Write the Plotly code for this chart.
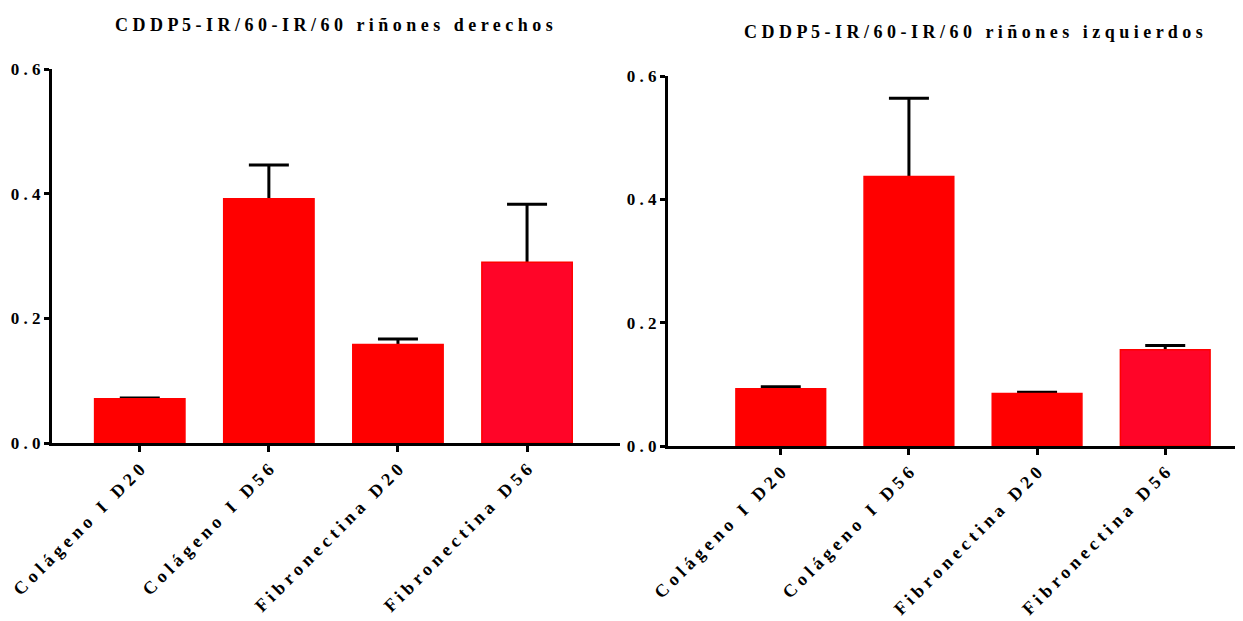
import plotly.graph_objects as go

categories = ["Colágeno I D20", "Colágeno I D56", "Fibronectina D20", "Fibronectina D56"]
right_values = [0.071, 0.392, 0.158, 0.290]
right_errors = [0.001, 0.054, 0.009, 0.093]
left_values = [0.093, 0.437, 0.085, 0.156]
left_errors = [0.003, 0.127, 0.002, 0.007]
bar_colors = ["#FF0000", "#FF0000", "#FF0000", "#FF0528"]
line_colors = ["#FF0000", "#FF0000", "#FF0000", "#FF0000"]
y_ticks = [0.0, 0.2, 0.4, 0.6]
y_tick_labels = ["0.0", "0.2", "0.4", "0.6"]
title_left = "CDDP5-IR/60-IR/60 riñones derechos"
title_right = "CDDP5-IR/60-IR/60 riñones izquierdos"

W, H = 1243, 621
OFF = 8  # page body margin


def px(x):
    return (x - OFF) / W


def py(y):
    return (H - (y - OFF)) / H


def spaced(s, sep=" "):
    return sep.join(list(s))


FONT = "Liberation Serif"

fig = go.Figure()
for vals, errs, xa, ya in [(right_values, right_errors, "x", "y"), (left_values, left_errors, "x2", "y2")]:
    # carrier of the error bars (drawn underneath the visible bars)
    fig.add_trace(go.Bar(
        x=categories, y=vals, xaxis=xa, yaxis=ya, width=0.7,
        marker=dict(color="rgba(0,0,0,0)", line=dict(width=0)),
        error_y=dict(type="data", array=errs, arrayminus=vals, symmetric=False,
                     color="black", thickness=3, width=20),
        showlegend=False, hoverinfo="skip",
    ))
    fig.add_trace(go.Bar(
        x=categories, y=vals, xaxis=xa, yaxis=ya, width=0.7,
        marker=dict(color=bar_colors, line=dict(color=line_colors, width=1.5)),
        showlegend=False,
    ))

tick_text = [spaced(c) for c in categories]
axis_common = dict(showline=True, linewidth=3, linecolor="black", showgrid=False, zeroline=False,
                   ticks="outside", tickwidth=3, tickcolor="black", automargin=False)
xfont = dict(family=FONT, size=18, color="black", weight="bold")
yfont = dict(family=FONT, size=17, color="black", weight="bold")
tfont = dict(family=FONT, size=18, color="black", weight="bold")

fig.update_layout(
    width=W, height=H, margin=dict(l=0, r=0, t=0, b=0),
    paper_bgcolor="white", plot_bgcolor="white", barmode="overlay",
    xaxis=dict(domain=[px(52), px(620)], anchor="y", range=[-0.68, 3.72], tickfont=xfont,
               tickvals=categories, ticktext=tick_text, tickangle=-45, ticklen=6, **axis_common),
    yaxis=dict(domain=[py(443), py(69)], anchor="x", range=[0, 0.6], tickfont=yfont,
               tickvals=y_ticks, ticktext=[spaced(t) for t in y_tick_labels], ticklen=5,
               **axis_common),
    xaxis2=dict(domain=[px(668), px(1237)], anchor="y2", range=[-0.88, 3.56], tickfont=xfont,
                tickvals=categories, ticktext=tick_text, tickangle=-45, ticklen=6, **axis_common),
    yaxis2=dict(domain=[py(446), py(76)], anchor="x2", range=[0, 0.6], tickfont=yfont,
                tickvals=y_ticks, ticktext=[spaced(t) for t in y_tick_labels], ticklen=5,
                **axis_common),
    annotations=[
        dict(text=spaced(title_left), x=px(334), y=py(25), xref="paper", yref="paper",
             showarrow=False, xanchor="center", yanchor="middle", font=tfont),
        dict(text=spaced(title_right), x=px(973), y=py(32), xref="paper", yref="paper",
             showarrow=False, xanchor="center", yanchor="middle", font=tfont),
    ],
)

fig.write_html("out.html")
